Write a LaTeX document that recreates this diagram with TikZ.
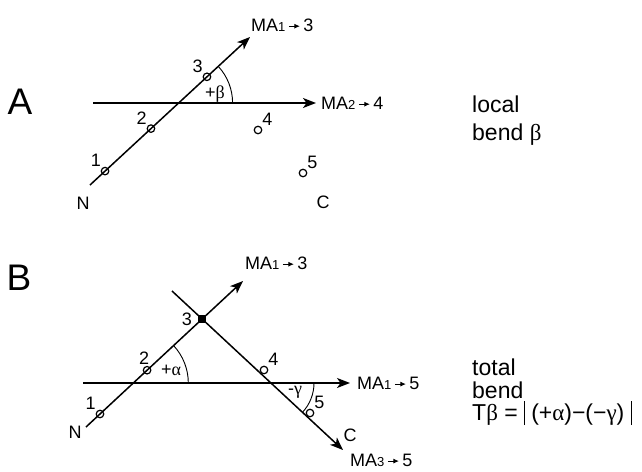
\documentclass[tikz,border=0pt]{standalone}
\usepackage{fontspec}
\setmainfont{Liberation Sans}
\newfontfamily\grk{Liberation Serif}
\usetikzlibrary{arrows.meta}
\tikzset{
  axisln/.style  = {line width=1.5pt, -{Stealth[length=13pt,width=10pt,inset=3.5pt]}},
  angarc/.style  = {line width=0.9pt},
  ptc/.style     = {circle, draw, line width=1.2pt, minimum size=7.5pt, inner sep=0pt},
  ptsq/.style    = {rectangle, fill, minimum size=8.5pt, inner sep=0pt},
  plab/.style    = {font=\fontsize{18}{18}\selectfont, inner sep=1pt},
  malab/.style   = {font=\fontsize{18}{18}\selectfont, anchor=west, inner sep=0pt},
  sidetxt/.style = {font=\fontsize{23}{23}\selectfont, anchor=base west, inner sep=0pt},
  panlab/.style  = {font=\fontsize{37}{37}\selectfont, inner sep=0pt},
}
\newcommand{\sarr}{\tikz[baseline=-5pt]\draw[line width=0.9pt,-{Latex[length=5.5pt,width=5pt]}] (0,0) -- (11pt,0);}
\newcommand{\mal}[2]{MA{\fontsize{13}{13}\selectfont #1}\,\sarr\,#2}
\newcommand{\vbar}{\rule[-5pt]{0.7pt}{24pt}}

\begin{document}
\begin{tikzpicture}[x=1pt, y=-1pt]
\useasboundingbox (0,0) rectangle (642,471);

% --- A: local bend
\node[panlab] (labA) at (20,102) {A};
\coordinate (nA) at (90,185);
\coordinate (tipA13) at (250,37);
\draw[axisln] (nA) -- (tipA13)
  node[ptc, pos=0.094] (a1) {}
  node[ptc, pos=0.381] (a2) {}
  node[ptc, pos=0.731] (a3) {};
\coordinate (hA) at (93,103);
\coordinate (tipA24) at (316,103);
\draw[axisln] (hA) -- (tipA24);
\node[malab] (maA13) at (251,25) {\mal{1}{3}};
\node[malab] (maA24) at (321,103) {\mal{2}{4}};
\draw[angarc] (232.6,103) arc[start angle=0, end angle=-42.8, radius=54];
\node[plab] (betaA) at (215,94) {+{\grk β}};
\node[ptc] (a4) at (258,130) {};
\node[ptc] (a5) at (303,173) {};
\node[plab, anchor=south east] (a1l) at (a1.north west) {1};
\node[plab, anchor=south east] (a2l) at (a2.north west) {2};
\node[plab, anchor=south east] (a3l) at (a3.north west) {3};
\node[plab, anchor=south west] (a4l) at (a4.north east) {4};
\node[plab, anchor=south west] (a5l) at (a5.north east) {5};
\node[plab] (nlA) at (83,203) {N};
\node[plab] (clA) at (323,202) {C};
\node[sidetxt] (txtA1) at (472,112) {local};
\node[sidetxt] (txtA2) at (472,140) {bend {\grk β}};

% --- B: total bend
\node[panlab] (labB) at (19,278) {B};
\coordinate (nB) at (86,427);
\coordinate (tipB13) at (243,281);
\draw[axisln] (nB) -- (tipB13)
  node[ptc, pos=0.089] (b1) {}
  node[ptc, pos=0.389] (b2) {}
  node[ptsq, pos=0.739] (b3) {};
\coordinate (xB) at (172,291);
\coordinate (tipB35) at (343,450);
\draw[axisln] (xB) -- (tipB35);
\coordinate (hB) at (83,383);
\coordinate (tipB15) at (350,383);
\draw[axisln] (hB) -- (tipB15);
\node[ptc] (b4) at (264,370) {};
\node[ptc] (b5) at (310,413) {};
\node[malab] (maB13) at (245,263) {\mal{1}{3}};
\node[malab] (maB15) at (357,383) {\mal{1}{5}};
\node[malab] (maB35) at (350,460) {\mal{3}{5}};
\draw[angarc] (188.3,383) arc[start angle=0, end angle=-42.9, radius=55];
\draw[angarc] (314,383) arc[start angle=0, end angle=42.9, radius=43];
\node[plab] (alphaB) at (171,370) {+{\grk α}};
\node[plab] (gammaB) at (295,392) {-{\grk γ}};
\node[plab, anchor=south east] (b1l) at (b1.north west) {1};
\node[plab, anchor=south, xshift=-3pt] (b2l) at (b2.north) {2};
\node[plab, anchor=east, xshift=-4pt] (b3l) at (b3.west) {3};
\node[plab, anchor=south west] (b4l) at (b4.north east) {4};
\node[plab, anchor=south west] (b5l) at (b5.north east) {5};
\node[plab] (nlB) at (75,432) {N};
\node[plab] (clB) at (350,435) {C};
\node[sidetxt] (txtB1) at (472,375) {total};
\node[sidetxt] (txtB2) at (472,398) {bend};
\node[sidetxt] (txtB3) at (472,420) {T{\grk β} = \vbar\ ({+}{\grk α})−(−{\grk γ})\ \vbar};
\end{tikzpicture}
\end{document}
